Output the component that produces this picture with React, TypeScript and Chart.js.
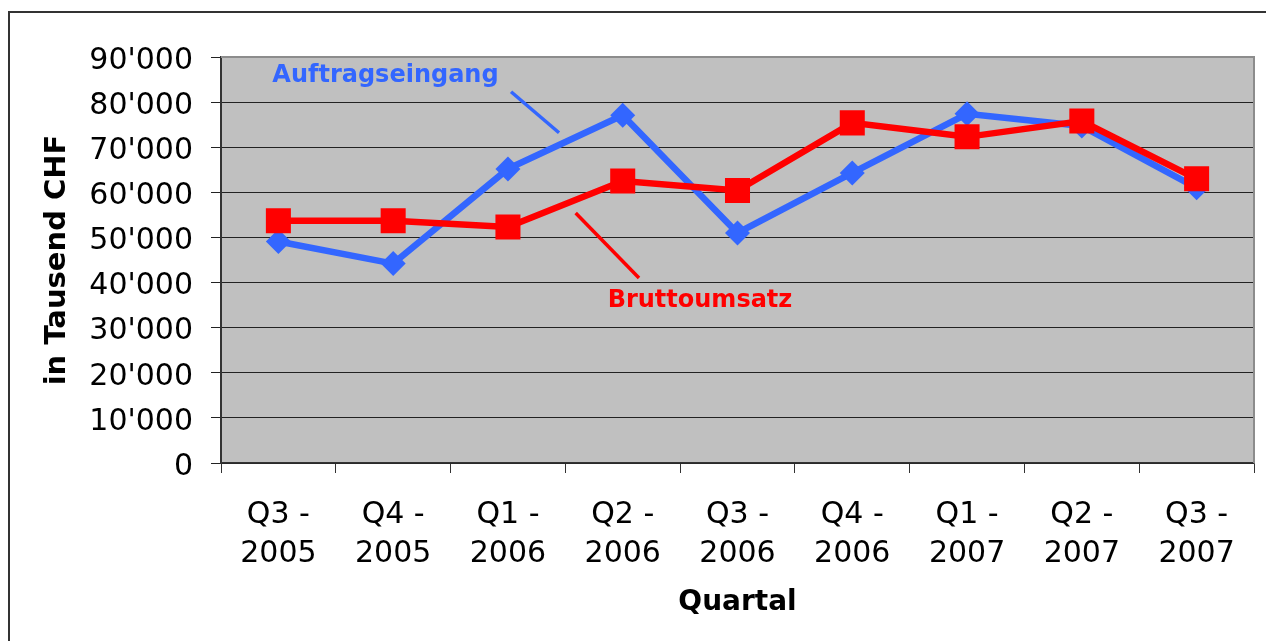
import React, { useEffect, useRef } from "react";
import { Chart, registerables } from "chart.js";

Chart.register(...registerables);

// ---- data ----
const categories: string[][] = [
  ["Q3 -", "2005"],
  ["Q4 -", "2005"],
  ["Q1 -", "2006"],
  ["Q2 -", "2006"],
  ["Q3 -", "2006"],
  ["Q4 -", "2006"],
  ["Q1 -", "2007"],
  ["Q2 -", "2007"],
  ["Q3 -", "2007"],
];
const auftragseingang = [49100, 44200, 65200, 77100, 51000, 64300, 77400, 74700, 61000];
const bruttoumsatz = [53700, 53700, 52300, 62500, 60400, 75400, 72300, 75800, 63000];
const yMax = 90000;
const yStep = 10000;

// annotation labels (in data coordinates: category index, value)
const annotationTexts = ["Auftragseingang", "Bruttoumsatz"];
const annotationColors = ["#3366FF", "#FF0000"];
const annotationAt = [
  [0.933, 85900],
  [3.673, 36000],
];
const leaderFrom = [
  [2.027, 82300],
  [2.59, 55400],
];
const leaderTo = [
  [2.445, 73200],
  [3.142, 41000],
];

const FONT = "'DejaVu Sans', Verdana, sans-serif";

function fmt(v: number): string {
  if (v === 0) return "0";
  const s = String(Math.round(v));
  return s.replace(/\B(?=(\d{3})+(?!\d))/g, "'");
}

const backgroundPlugin = {
  id: "bgPlugin",
  beforeDraw(chart: any) {
    const { ctx, chartArea } = chart;
    ctx.save();
    // outer frame
    ctx.strokeStyle = "#333333";
    ctx.lineWidth = 2;
    ctx.beginPath();
    ctx.moveTo(9, 700);
    ctx.lineTo(9, 12);
    ctx.lineTo(1400, 12);
    ctx.stroke();
    // plot area
    ctx.fillStyle = "#C0C0C0";
    ctx.fillRect(chartArea.left, chartArea.top, chartArea.right - chartArea.left, chartArea.bottom - chartArea.top);
    ctx.restore();
  },
  beforeDatasetsDraw(chart: any) {
    const { ctx, chartArea, scales } = chart;
    ctx.save();
    ctx.strokeStyle = "#8C8C8C";
    ctx.lineWidth = 2;
    ctx.beginPath();
    ctx.moveTo(chartArea.left, chartArea.top);
    ctx.lineTo(chartArea.right, chartArea.top);
    ctx.lineTo(chartArea.right, chartArea.bottom);
    ctx.stroke();

    const xs = scales.x;
    const ys = scales.y;
    for (let i = 0; i < annotationTexts.length; i++) {
      ctx.strokeStyle = annotationColors[i];
      ctx.lineWidth = 3.5;
      ctx.beginPath();
      ctx.moveTo(xs.getPixelForValue(leaderFrom[i][0]), ys.getPixelForValue(leaderFrom[i][1]));
      ctx.lineTo(xs.getPixelForValue(leaderTo[i][0]), ys.getPixelForValue(leaderTo[i][1]));
      ctx.stroke();
      ctx.fillStyle = annotationColors[i];
      ctx.font = `bold 24px ${FONT}`;
      ctx.textAlign = "center";
      ctx.textBaseline = "middle";
      ctx.fillText(
        annotationTexts[i],
        xs.getPixelForValue(annotationAt[i][0]),
        ys.getPixelForValue(annotationAt[i][1])
      );
    }
    ctx.restore();
  },
};

export default function App() {
  const ref = useRef<HTMLCanvasElement>(null);
  useEffect(() => {
    if (!ref.current) return;
    const chart = new Chart(ref.current, {
      type: "line",
      data: {
        labels: categories,
        datasets: [
          {
            label: "Auftragseingang",
            data: auftragseingang,
            borderColor: "#3366FF",
            backgroundColor: "#3366FF",
            borderWidth: 6.5,
            pointStyle: "rectRot",
            pointRadius: 12.5,
            pointBorderWidth: 0,
            pointBackgroundColor: "#3366FF",
            tension: 0,
            order: 1,
          },
          {
            label: "Bruttoumsatz",
            data: bruttoumsatz,
            borderColor: "#FF0000",
            backgroundColor: "#FF0000",
            borderWidth: 6.5,
            pointStyle: "rect",
            pointRadius: 17.7,
            pointBorderWidth: 0,
            pointBackgroundColor: "#FF0000",
            tension: 0,
            order: 0,
          },
        ],
      },
      options: {
        animation: false,
        responsive: false,
        layout: { autoPadding: false, padding: { left: 0, top: 57, right: 12, bottom: 0 } },
        plugins: {
          legend: { display: false },
          tooltip: { enabled: false },
        },
        events: [],
        scales: {
          x: {
            offset: true,
            grid: {
              offset: true,
              drawOnChartArea: false,
              drawTicks: true,
              tickLength: 10,
              color: "#333333",
              lineWidth: 1,
            },
            border: { display: true, color: "#333333", width: 1.5 },
            ticks: {
              color: "#000",
              font: { family: FONT, size: 30, lineHeight: 1.3 },
              padding: 23,
              maxRotation: 0,
              autoSkip: false,
            },
            title: {
              display: true,
              text: "Quartal",
              color: "#000",
              font: { family: FONT, size: 28, weight: "bold", lineHeight: 1.2 },
              padding: { top: 21, bottom: 21 },
            },
            afterFit(scale: any) {
              scale.height = 178;
              scale.paddingLeft = 0;
              scale.paddingRight = 0;
            },
          },
          y: {
            min: 0,
            max: yMax,
            grid: {
              color: "#222222",
              lineWidth: 1,
              drawTicks: true,
              tickLength: 10,
            },
            border: { display: true, color: "#333333", width: 2 },
            ticks: {
              stepSize: yStep,
              color: "#000",
              font: { family: FONT, size: 30 },
              padding: 18,
              labelOffset: 4,
              callback: (v: any) => fmt(Number(v)),
            },
            title: {
              display: true,
              text: "in Tausend CHF",
              color: "#000",
              font: { family: FONT, size: 29, weight: "bold", lineHeight: 1.2 },
              padding: { top: 40, bottom: 40 },
            },
            afterFit(scale: any) {
              scale.width = 221;
              scale.paddingTop = 0;
              scale.paddingBottom = 0;
            },
          },
        },
      },
      plugins: [backgroundPlugin],
    });
    return () => chart.destroy();
  }, []);
  return (
    <div style={{ position: "absolute", left: 0, top: 0, width: 1266, height: 641, overflow: "hidden" }}>
      <canvas ref={ref} width={1266} height={641} style={{ display: "block" }} />
    </div>
  );
}
